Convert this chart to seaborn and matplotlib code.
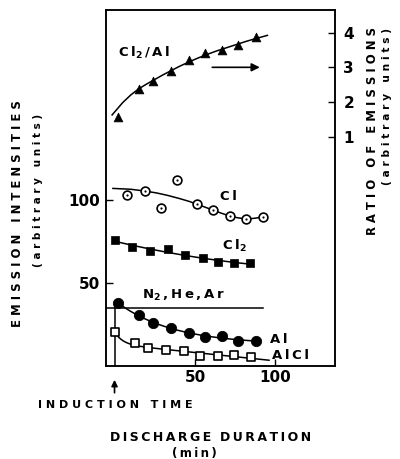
import numpy as np
import pandas as pd
import matplotlib
matplotlib.use("Agg")
import matplotlib.pyplot as plt
import seaborn as sns

# ---------------- data ----------------
# ratio Cl2/Al (right axis)
ratio_t = [2, 15, 24, 35, 46, 56, 67, 77, 88]
ratio_v = [1.57, 2.38, 2.61, 2.90, 3.21, 3.41, 3.50, 3.65, 3.88]
# hand-drawn trend curve of the ratio
ratio_curve_t = [-1.5, 5, 10, 15, 20, 25, 30, 35, 40, 46, 52, 58, 64, 70, 76, 82, 88, 95]
ratio_curve_v = [1.63, 1.98, 2.20, 2.38, 2.52, 2.65, 2.78, 2.90, 3.02, 3.15, 3.27, 3.38,
                 3.48, 3.57, 3.66, 3.75, 3.83, 3.92]
# Cl (open circles, left axis)
cl_t = [8, 19, 29, 39, 51, 61, 72, 82, 92]
cl_v = [103, 105.4, 95.2, 112, 97.6, 94, 90.4, 88.6, 89.8]
cl_curve_t = [-1, 10, 19, 26, 33, 40, 46, 51, 56, 61, 66, 71.5, 76, 81.5, 87, 92]
cl_curve_v = [107, 106.5, 105.4, 104.3, 102.8, 101, 99.3, 97.6, 95.8, 94, 92.2, 90.4,
              89.4, 88.6, 89.0, 89.8]
# Cl2 (filled squares)
cl2_t = [0, 11, 22, 33, 44, 55, 64, 74, 84]
cl2_v = [75.9, 71.7, 69.3, 70.5, 66.9, 65.1, 62.7, 62.0, 62.0]
# Al (filled circles)
al_t = [2, 15, 24, 35, 46, 56, 67, 77, 88]
al_v = [38, 30.7, 25.9, 22.9, 19.9, 17.5, 18.1, 15.1, 15.1]
# AlCl (open squares)
alcl_t = [0, 13, 21, 32, 43, 53, 64, 74, 85]
alcl_v = [20.5, 13.9, 10.8, 9.6, 9.0, 6.0, 6.0, 6.6, 5.4]
# N2, He, Ar level
n2_t = [-6, 92]
n2_v = [35, 35]
induction_time = 0

x_ticks = [50, 100]
left_ticks = [50, 100]
right_ticks = [1, 2, 3, 4]


def spaced(s, sep=" "):
    return sep.join(list(s))


def fit_curve(x, y, basis, grid):
    x = np.asarray(x, float)
    A = np.column_stack([f(x) for f in basis])
    coef, *_ = np.linalg.lstsq(A, np.asarray(y, float), rcond=None)
    G = np.column_stack([f(grid) for f in basis])
    return G @ coef


plt.rcParams["font.family"] = "DejaVu Sans"
plt.rcParams["font.weight"] = "bold"
plt.rcParams["mathtext.fontset"] = "dejavusans"
plt.rcParams["mathtext.default"] = "bf"

fig = plt.figure(figsize=(4.0, 4.59), dpi=100)
ax = fig.add_axes([0.265, 0.2026, 0.5725, 0.7756])
ax2 = ax.twinx()

ax.set_xlim(-5.3, 137)
ax.set_ylim(0, 214.5)
ax2.set_ylim(-5.6, 4.65)

K = "black"
LW = 1.1

# ---- trend curves ----
sns.lineplot(x=ratio_curve_t, y=ratio_curve_v, ax=ax2, color=K, lw=LW, estimator=None, sort=False)
sns.lineplot(x=cl_curve_t, y=cl_curve_v, ax=ax, color=K, lw=LW, estimator=None, sort=False)

g = np.linspace(0, 84, 100)
cl2_fit = np.polyval(np.polyfit(cl2_t, cl2_v, 2), g)
sns.lineplot(x=g, y=cl2_fit, ax=ax, color=K, lw=LW, estimator=None, sort=False)

g = np.linspace(1, 89, 200)
al_fit = fit_curve(al_t, al_v, [lambda t: np.ones_like(t), lambda t: np.exp(-t / 35.0)], g)
sns.lineplot(x=g, y=al_fit, ax=ax, color=K, lw=LW, estimator=None, sort=False)

g = np.linspace(0, 96, 300)
alcl_fit = fit_curve(alcl_t, alcl_v, [lambda t: np.ones_like(t), lambda t: np.exp(-t / 5.0), lambda t: t], g)
sns.lineplot(x=g, y=alcl_fit, ax=ax, color=K, lw=LW, estimator=None, sort=False)

# N2/He/Ar level and induction time line
sns.lineplot(x=n2_t, y=n2_v, ax=ax, color=K, lw=LW, estimator=None, sort=False)
sns.lineplot(x=[induction_time, induction_time], y=[0, al_v[0]], ax=ax, color=K, lw=LW,
             estimator=None, sort=False)

# ---- markers ----
sns.scatterplot(x=ratio_t, y=ratio_v, ax=ax2, marker="^", s=40, color=K, edgecolor=K, zorder=4)
sns.scatterplot(x=cl_t, y=cl_v, ax=ax, marker="o", s=40, facecolor="white", edgecolor=K,
                linewidth=1.2, zorder=4)
sns.scatterplot(x=cl_t, y=cl_v, ax=ax, marker="o", s=2, color=K, edgecolor=K, zorder=5)
sns.scatterplot(x=cl2_t, y=cl2_v, ax=ax, marker="s", s=38, color=K, edgecolor=K, zorder=4)
sns.scatterplot(x=al_t, y=al_v, ax=ax, marker="o", s=55, color=K, edgecolor=K, zorder=4)
sns.scatterplot(x=alcl_t, y=alcl_v, ax=ax, marker="s", s=30, facecolor="white", edgecolor=K,
                linewidth=1.2, zorder=4)

# ---- inline labels ----
ts = "\u2009"
lab_kw = dict(fontsize=9.5, fontweight="bold", va="baseline", ha="left")
ax2.text(2.2, 3.30, ts.join(["C", "l$_{2}$", "/", "A", "l"]), **lab_kw)
ax.text(65.5, 100, ts.join(["C", "l"]), **lab_kw)
ax.text(66.8, 69.9, ts.join(["C", "l$_{2}$"]), **lab_kw)
ax.text(17, 40.4, ts.join(["N$_{2}$", ",", "H", "e", ",", "A", "r"]), **lab_kw)
ax.text(96.6, 13.9, ts.join(["A", "l"]), **lab_kw)
ax.text(97.8, 4.2, ts.join(["A", "l", "C", "l"]), **lab_kw)

# arrow inside the plot (points to right axis)
ax2.annotate("", xy=(92, 3.0), xytext=(59, 3.0),
             arrowprops=dict(arrowstyle="-|>", color=K, lw=1.2, mutation_scale=12))

# induction time arrow below the axis
ax.annotate("", xy=(induction_time, -0.031), xytext=(induction_time, -0.083),
            xycoords=("data", "axes fraction"), textcoords=("data", "axes fraction"),
            arrowprops=dict(arrowstyle="-|>", color=K, lw=1.2, mutation_scale=9),
            annotation_clip=False)

# ---- axes styling ----
for a in (ax, ax2):
    for sp in a.spines.values():
        sp.set_linewidth(1.1)
        sp.set_color(K)

ax.set_xticks(x_ticks)
ax.set_yticks(left_ticks)
ax2.set_yticks(right_ticks)
ax.tick_params(axis="both", direction="in", length=5, width=1.0, labelsize=11,
               top=False, right=False, pad=4)
ax.tick_params(axis="x", pad=3)
ax2.tick_params(axis="y", direction="in", length=5, width=1.0, labelsize=11, pad=6)
ax.set_xlabel("")
ax.set_ylabel("")
ax2.set_ylabel("")

# ---- axis titles ----
fig.text(0.045, 0.535, "E M I S S I O N   I N T E N S I T I E S", rotation=90,
         ha="center", va="center", fontsize=8.4, fontweight="bold")
fig.text(0.095, 0.586, "( a r b i t r a r y   u n i t s )", rotation=90,
         ha="center", va="center", fontsize=7.5, fontweight="bold")
fig.text(0.93, 0.715, "R A T I O   O F   E M I S S I O N S", rotation=90,
         ha="center", va="center", fontsize=8.4, fontweight="bold")
fig.text(0.9675, 0.767, "( a r b i t r a r y   u n i t s )", rotation=90,
         ha="center", va="center", fontsize=7.7, fontweight="bold")
fig.text(0.2875, 0.1176, "I N D U C T I O N   T I M E", ha="center", va="center",
         fontsize=8, fontweight="bold")
fig.text(0.5275, 0.0458, spaced("DISCHARGE", ts) + "  " + spaced("DURATION", ts),
         ha="center", va="center", fontsize=9, fontweight="bold")
fig.text(0.485, 0.013, spaced("(min)", ts), ha="center", va="center",
         fontsize=8.5, fontweight="bold")

fig.savefig("out.png", dpi=100)
